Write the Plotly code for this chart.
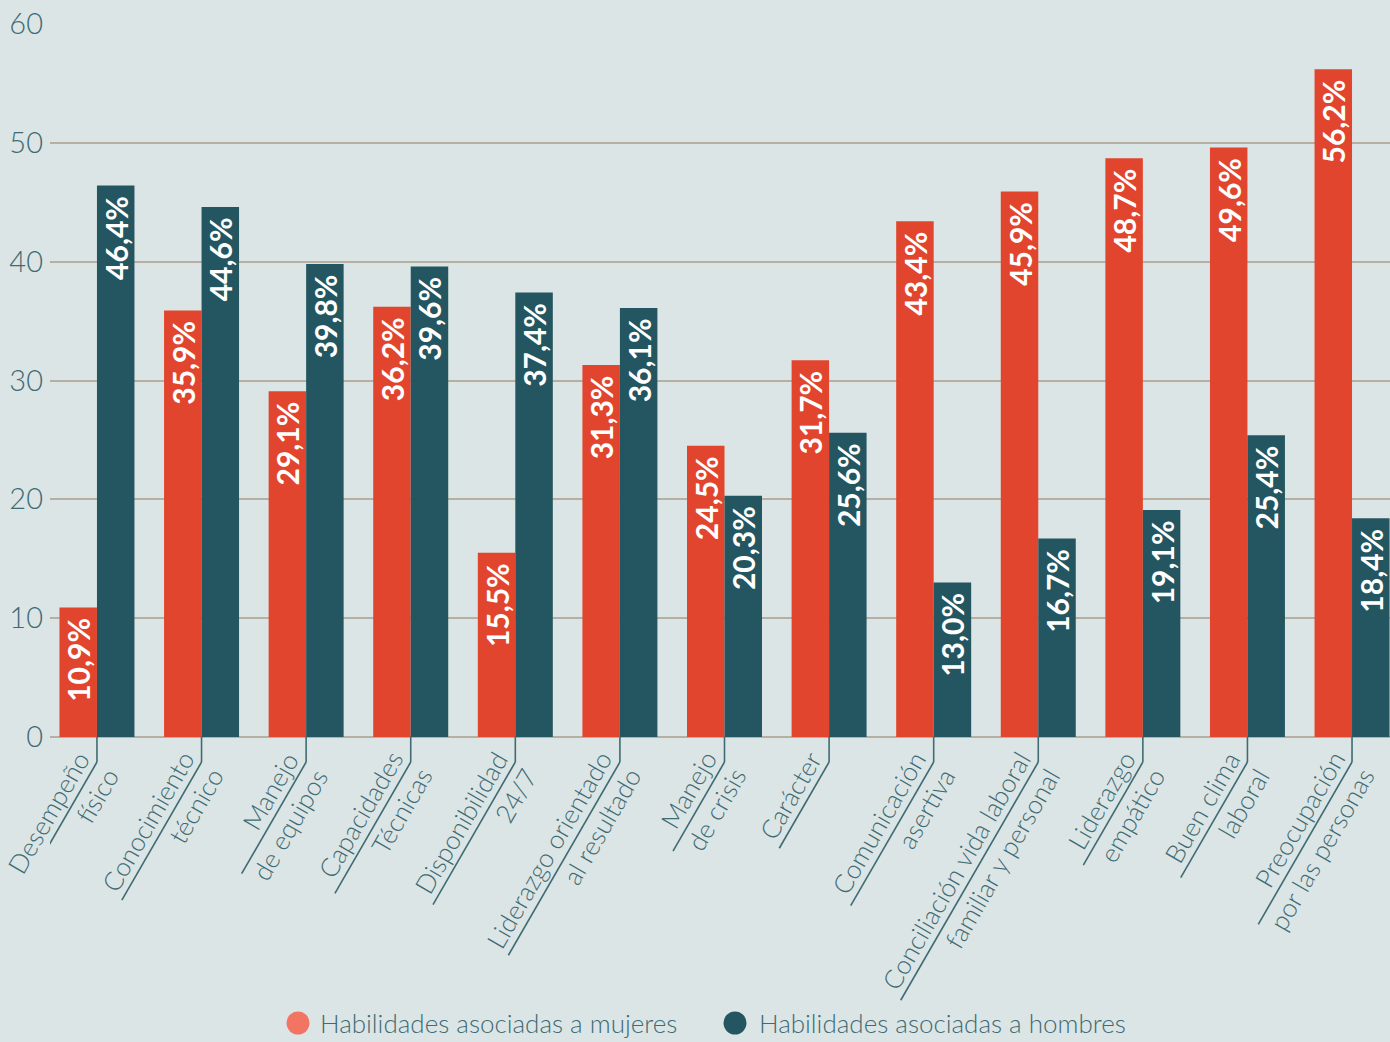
import math
import plotly.graph_objects as go

# ---------------- data ----------------
categories = [
    "Desempeño<br>físico",
    "Conocimiento<br>técnico",
    "Manejo<br>de equipos",
    "Capacidades<br>Técnicas",
    "Disponibilidad<br>24/7",
    "Liderazgo orientado<br>al resultado",
    "Manejo<br>de crisis",
    "Carácter<br>\u00a0",
    "Comunicación<br>asertiva",
    "Conciliación vida laboral<br>familiar y personal",
    "Liderazgo<br>empático",
    "Buen clima<br>laboral",
    "Preocupación<br>por las personas",
]
mujeres = [10.9, 35.9, 29.1, 36.2, 15.5, 31.3, 24.5, 31.7, 43.4, 45.9, 48.7, 49.6, 56.2]
hombres = [46.4, 44.6, 39.8, 39.6, 37.4, 36.1, 20.3, 25.6, 13.0, 16.7, 19.1, 25.4, 18.4]
series_names = ["Habilidades asociadas a mujeres", "Habilidades asociadas a hombres"]
y_ticks = [0, 10, 20, 30, 40, 50, 60]

# ---------------- style ----------------
RED = "#e2452d"
TEAL = "#235660"
LEG_RED = "#f27463"
TXT = "#3e6b74"
BG = "#dce5e5"
GRID = "#b6b0a3"
FONT = "Lato"

W, H = 1390, 1042
ML, MR, MT, MB = 50, 0, 24, 305
X_RANGE = [-0.449, 12.363]
plot_w = W - ML - MR
plot_h = H - MT - MB
px_per_x = plot_w / (X_RANGE[1] - X_RANGE[0])

idx = list(range(len(categories)))


def fmt(v):
    return f"{v:.1f}".replace(".", ",") + "%\u2009\u2009"


def text_em(s):
    """rough width estimate of a string, in em"""
    w = 0.0
    for ch in s:
        if ch in "iílíjtfr /\u00a0":
            w += 0.25
        elif ch in "mw":
            w += 0.8
        elif ch.isupper():
            w += 0.62
        else:
            w += 0.5
    return w


fig = go.Figure()
for vals, col in [(mujeres, RED), (hombres, TEAL)]:
    fig.add_trace(go.Bar(
        x=idx, y=vals, marker=dict(color=col, line=dict(width=0)),
        text=[fmt(v) for v in vals], textposition="inside", textangle=-90,
        insidetextanchor="end", constraintext="none",
        textfont=dict(family=FONT, size=30, color="white", weight="bold"),
        showlegend=False, hoverinfo="skip",
    ))

# ---------------- category labels with leader lines ----------------
LBL_FS = 26
half_h = 1.25 * LBL_FS
ang = math.radians(60)
bend_px = 25  # vertical drop below the axis
yB = -bend_px / plot_h
shapes = []
annotations = []
for i, lab in enumerate(categories):
    lines = lab.split("<br>")
    L = max(text_em(s) for s in lines) * LBL_FS + 12
    shapes.append(dict(type="line", xref="x", yref="paper", x0=i, x1=i, y0=0, y1=yB,
                       line=dict(color=TXT, width=1.6)))
    shapes.append(dict(type="line", xref="x", yref="paper", x0=i, y0=yB,
                       x1=i - L * math.cos(ang) / px_per_x,
                       y1=yB - L * math.sin(ang) / plot_h,
                       line=dict(color=TXT, width=1.6)))
    annotations.append(dict(
        text=lab, xref="x", yref="paper",
        x=i + half_h * math.sin(ang) / px_per_x,
        y=yB + half_h * math.cos(ang) / plot_h,
        xanchor="right", yanchor="top", align="right", textangle=-60,
        showarrow=False, borderpad=0, borderwidth=0,
        font=dict(family=FONT, size=LBL_FS, color=TXT, weight=300),
    ))

# ---------------- legend (manual, circles) ----------------
leg_y = (plot_h - (1023 - MT)) / plot_h
for (cx, tx), name, col in zip([(298, 318), (735, 757)], series_names, [LEG_RED, TEAL]):
    shapes.append(dict(type="circle", xref="paper", yref="paper",
                       xsizemode="pixel", ysizemode="pixel",
                       xanchor=(cx - ML) / plot_w, yanchor=leg_y,
                       x0=-11.5, x1=11.5, y0=-11.5, y1=11.5,
                       fillcolor=col, line=dict(width=0)))
    annotations.append(dict(text=name, xref="paper", yref="paper",
                            x=(tx - ML) / plot_w, y=leg_y, xanchor="left", yanchor="middle",
                            showarrow=False,
                            font=dict(family=FONT, size=26, color=TXT, weight=300)))

fig.update_layout(
    width=W, height=H,
    margin=dict(l=ML, r=MR, t=MT, b=MB, pad=0),
    paper_bgcolor=BG, plot_bgcolor=BG,
    barmode="group", bargap=0.283, bargroupgap=0,
    showlegend=False,
    shapes=shapes, annotations=annotations,
    xaxis=dict(range=X_RANGE, showticklabels=False, showgrid=False, zeroline=False,
               showline=False, ticks=""),
    yaxis=dict(range=[0, 60], tickvals=y_ticks, showgrid=True, gridcolor=GRID, gridwidth=2,
               zeroline=True, zerolinecolor=GRID, zerolinewidth=2, showline=False, ticks="",
               ticklabelstandoff=6,
               tickfont=dict(family=FONT, size=29, color=TXT, weight=300)),
)

fig.write_html("out.html")
